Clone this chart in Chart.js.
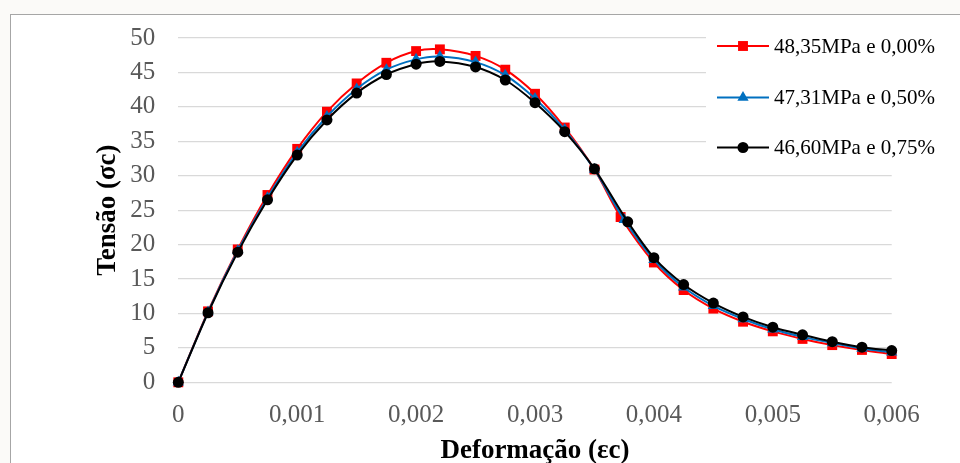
<!DOCTYPE html>
<html lang="pt">
<head>
<meta charset="utf-8">
<title>Tensão x Deformação</title>
<script src="https://cdn.jsdelivr.net/npm/chart.js@4.4.1/dist/chart.umd.min.js"></script>
<style>
  html, body { margin: 0; padding: 0; background: #fbfaf8; overflow: hidden; }
  #moldura { position: absolute; left: 10px; top: 14px; width: 1000px; height: 500px; background: #fff; border: 1px solid #a6a6a6; }
  #grafico { position: absolute; left: 0; top: 0; }
</style>
</head>
<body>
<div id="moldura"></div>
<canvas id="grafico" width="960" height="463"></canvas>
<script>
// deformação (εc) de cada ponto, uma lista por série
const epsSerie0 = [0, 0.00025, 0.0005, 0.00075, 0.001, 0.00125, 0.0015, 0.00175, 0.002, 0.0022, 0.0025, 0.00275, 0.003, 0.00325, 0.0035, 0.00372, 0.004, 0.00425, 0.0045, 0.00475, 0.005, 0.00525, 0.0055, 0.00575, 0.006];
const epsSerie1 = [0, 0.00025, 0.0005, 0.00075, 0.001, 0.00125, 0.0015, 0.00175, 0.002, 0.0022, 0.0025, 0.00275, 0.003, 0.00325, 0.0035, 0.00375, 0.004, 0.00425, 0.0045, 0.00475, 0.005, 0.00525, 0.0055, 0.00575, 0.006];
const epsSerie2 = [0, 0.00025, 0.0005, 0.00075, 0.001, 0.00125, 0.0015, 0.00175, 0.002, 0.0022, 0.0025, 0.00275, 0.003, 0.00325, 0.0035, 0.00378, 0.004, 0.00425, 0.0045, 0.00475, 0.005, 0.00525, 0.0055, 0.00575, 0.006];

// tensão (σc) em MPa
const tensao000 = [0, 10.3, 19.3, 27.2, 33.9, 39.3, 43.4, 46.4, 48.1, 48.35, 47.4, 45.4, 41.9, 37.0, 30.9, 24.0, 17.4, 13.4, 10.7, 8.8, 7.4, 6.3, 5.4, 4.7, 4.1];
const tensao050 = [0, 10.2, 19.1, 26.8, 33.4, 38.6, 42.6, 45.4, 46.9, 47.31, 46.5, 44.6, 41.2, 36.7, 30.9, 23.6, 17.8, 13.8, 11.1, 9.2, 7.7, 6.6, 5.7, 4.9, 4.35];
const tensao075 = [0, 10.1, 18.9, 26.5, 33.0, 38.1, 42.0, 44.7, 46.2, 46.6, 45.8, 43.9, 40.6, 36.4, 31.0, 23.3, 18.1, 14.2, 11.5, 9.5, 8.0, 6.9, 5.9, 5.1, 4.6];

const nomesSeries = ['48,35MPa e 0,00%', '47,31MPa e 0,50%', '46,60MPa e 0,75%'];
const xTickLabels = ['0', '0,001', '0,002', '0,003', '0,004', '0,005', '0,006'];

const FONTE = "'Liberation Serif', 'Times New Roman', serif";

function pontos(xs, ys) {
    return xs.map((x, i) => ({ x: x, y: ys[i] }));
}

// legenda desenhada à mão, sobreposta ao canto superior direito
const legendaLateral = {
    id: 'legendaLateral',
    afterDraw(chart) {
        const ctx = chart.ctx;
        ctx.save();
        ctx.fillStyle = '#ffffff';
        ctx.fillRect(706, 24, 240, 140);
        const linhasY = [46, 97.5, 147.5];
        chart.data.datasets.forEach((ds, i) => {
            const y = linhasY[i];
            ctx.strokeStyle = ds.borderColor;
            ctx.lineWidth = ds.borderWidth;
            ctx.beginPath();
            ctx.moveTo(717, y);
            ctx.lineTo(769, y);
            ctx.stroke();
            ctx.fillStyle = ds.pointBackgroundColor;
            ctx.strokeStyle = ds.pointBorderColor;
            Chart.helpers.drawPoint(ctx, {
                pointStyle: ds.pointStyle,
                radius: ds.pointRadius,
                rotation: 0,
                borderWidth: 0
            }, 743, y);
            ctx.fillStyle = '#000000';
            ctx.font = "21px " + FONTE;
            ctx.textAlign = 'left';
            ctx.textBaseline = 'middle';
            ctx.fillText(ds.label, 774, y + 1);
        });
        ctx.restore();
    }
};

const serieBase = {
    showLine: true,
    tension: 0.3,
    borderWidth: 2,
    pointBorderWidth: 0,
    pointHoverRadius: 0,
    clip: false
};

new Chart(document.getElementById('grafico'), {
    type: 'scatter',
    data: {
        datasets: [
            Object.assign({}, serieBase, {
                label: nomesSeries[0],
                data: pontos(epsSerie0, tensao000),
                borderColor: '#ff0000',
                pointBackgroundColor: '#ff0000',
                pointBorderColor: '#ff0000',
                pointStyle: 'rect',
                pointRadius: 7,
                order: 2
            }),
            Object.assign({}, serieBase, {
                label: nomesSeries[1],
                data: pontos(epsSerie1, tensao050),
                borderColor: '#0070c0',
                pointBackgroundColor: '#0070c0',
                pointBorderColor: '#0070c0',
                pointStyle: 'triangle',
                pointRadius: 6.5,
                order: 1
            }),
            Object.assign({}, serieBase, {
                label: nomesSeries[2],
                data: pontos(epsSerie2, tensao075),
                borderColor: '#000000',
                pointBackgroundColor: '#000000',
                pointBorderColor: '#000000',
                pointStyle: 'circle',
                pointRadius: 5.5,
                order: 0
            })
        ]
    },
    options: {
        responsive: false,
        animation: false,
        layout: { padding: { top: 35, right: 68.3, bottom: 0, left: 0 } },
        plugins: {
            legend: { display: false },
            tooltip: { enabled: false }
        },
        scales: {
            x: {
                type: 'linear',
                min: 0,
                max: 0.006,
                border: { display: false },
                grid: { display: false, drawTicks: false },
                ticks: {
                    stepSize: 0.001,
                    padding: 18,
                    color: '#595959',
                    font: { family: FONTE, size: 25 },
                    maxRotation: 0,
                    callback: (v, i) => xTickLabels[i]
                },
                title: {
                    display: true,
                    text: 'Deformação (εc)',
                    color: '#000000',
                    font: { family: FONTE, size: 27, weight: 'bold', lineHeight: 1 },
                    padding: { top: 0, bottom: -2 }
                },
                afterFit: (scale) => { scale.height = 80.7; }
            },
            y: {
                min: 0,
                max: 50,
                border: { display: false },
                grid: { color: '#d9d9d9', lineWidth: 1.3, drawTicks: false },
                ticks: {
                    stepSize: 5,
                    padding: 23,
                    color: '#595959',
                    font: { family: FONTE, size: 25 }
                },
                title: {
                    display: true,
                    text: 'Tensão (σc)',
                    color: '#000000',
                    font: { family: FONTE, size: 27, weight: 'bold', lineHeight: 1 },
                    padding: { top: 95, bottom: 0 }
                },
                afterFit: (scale) => { scale.width = 178.3; }
            }
        }
    },
    plugins: [legendaLateral]
});
</script>
</body>
</html>
